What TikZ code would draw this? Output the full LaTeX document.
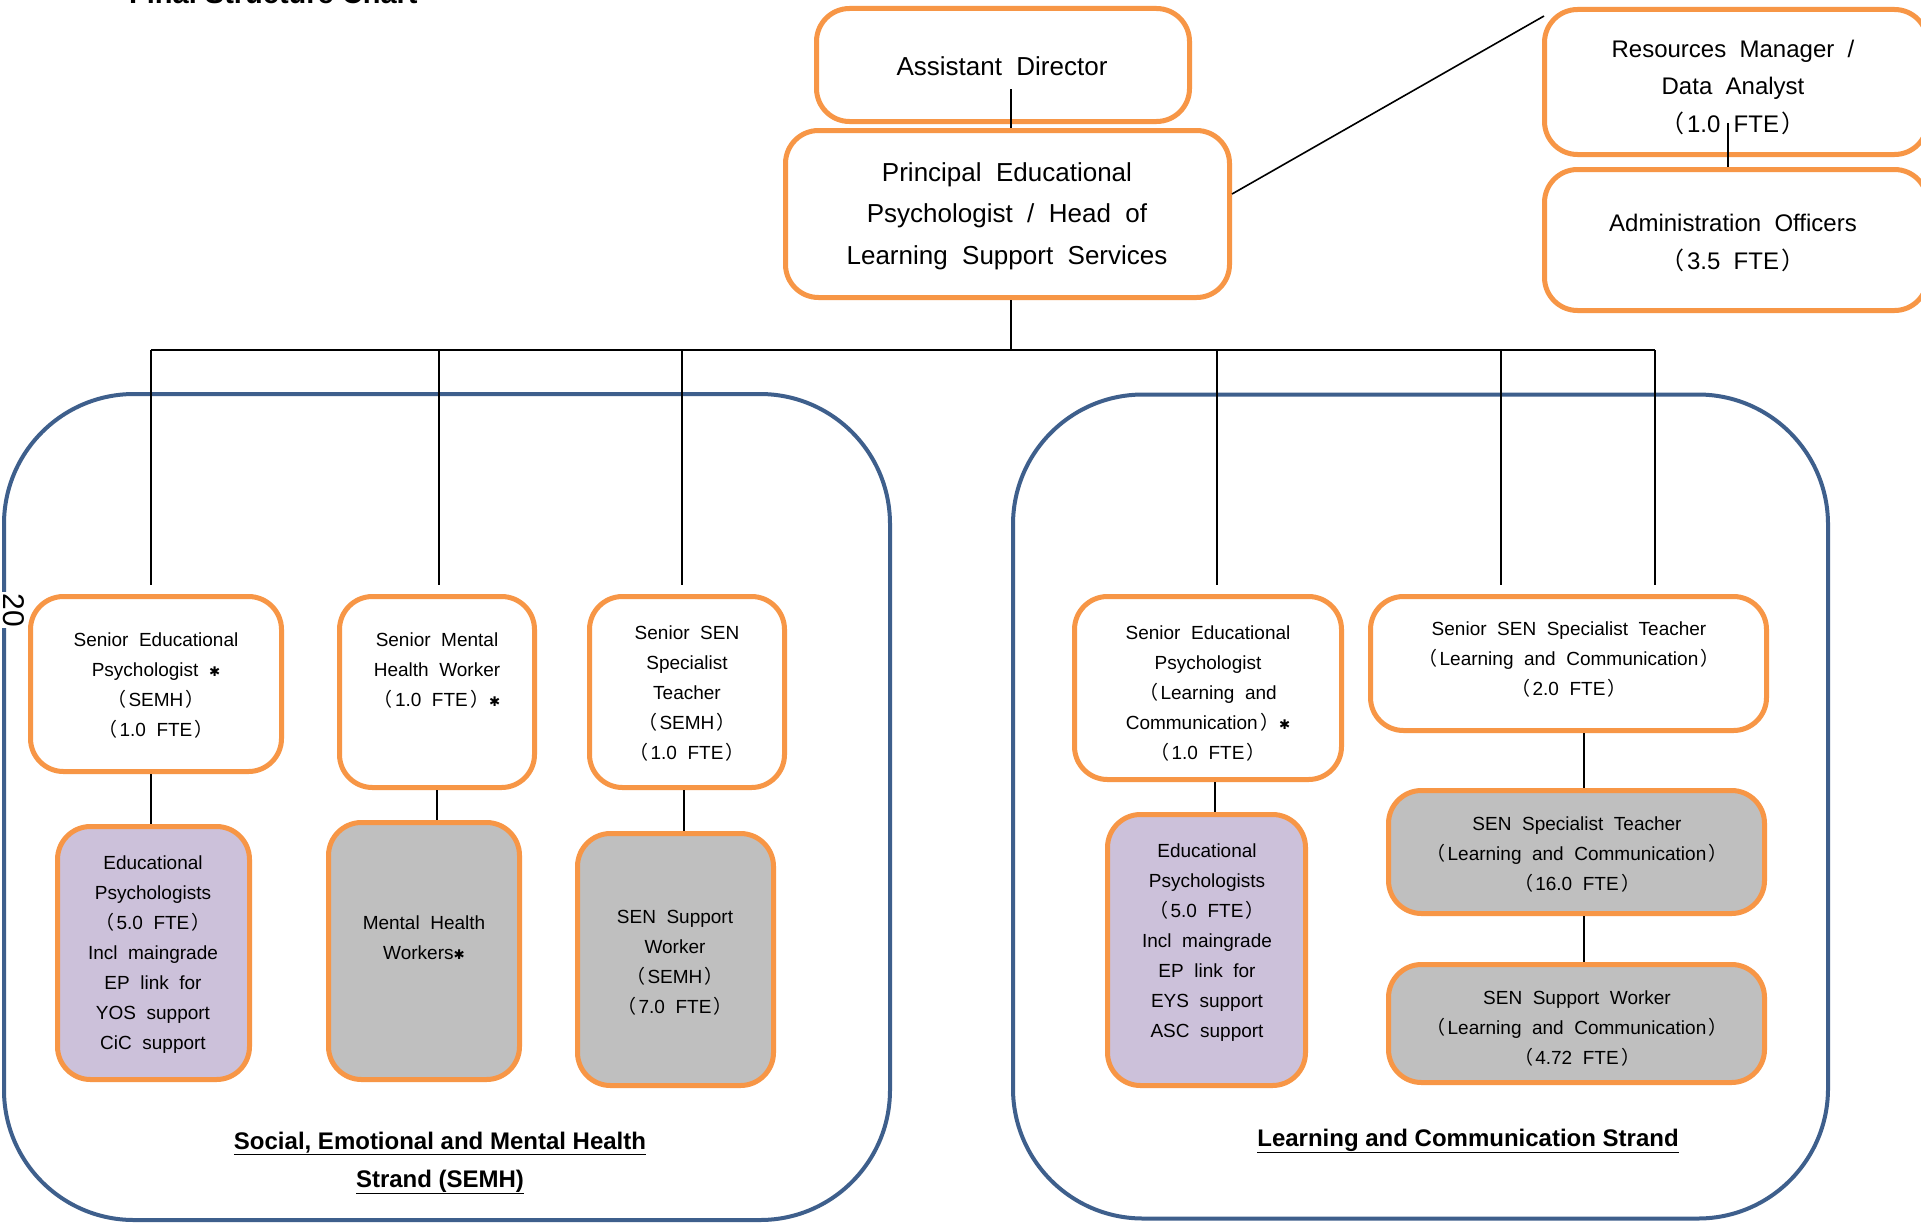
\documentclass[tikz,border=0pt]{standalone}
\usepackage{fontspec}
\setmainfont[WordSpace=2]{Liberation Sans}
\newfontfamily\cjk{Noto Sans CJK KR}
\newfontfamily\lblfont{Liberation Sans}
\newfontfamily\symfont[Scale=0.7]{DejaVu Sans}
\newcommand\lp{{\cjk （}\kern0.12em}
\newcommand\rp{\kern0.12em{\cjk ）}}
\newcommand\stast{{\symfont ✱}}
\definecolor{orgc}{HTML}{F79646}
\definecolor{bluec}{HTML}{3E5F8C}
\definecolor{purc}{HTML}{CCC1DA}
\definecolor{grayc}{HTML}{BFBFBF}
\tikzset{
  obox/.style={draw=orgc, line width=5pt, rounded corners=33pt, fill=white, inner sep=0pt},
  pbox/.style={obox, fill=purc},
  gbox/.style={obox, fill=grayc},
  strand/.style={draw=bluec, line width=4pt, rounded corners=130pt, inner sep=0pt},
  conn/.style={line width=1.6pt, black},
  tx/.style={align=center, inner sep=0pt, font=\fontsize{19}{30}\selectfont},
  txbig/.style={align=center, inner sep=0pt, font=\fontsize{26}{41.5}\selectfont},
  txmid/.style={align=center, inner sep=0pt, font=\fontsize{24}{37.5}\selectfont},
  lbl/.style={align=center, inner sep=0pt, font={\lblfont\bfseries\fontsize{24}{38}\selectfont}}
}
\begin{document}
\begin{tikzpicture}[x=1pt,y=-1pt]
\useasboundingbox (0,0) rectangle (1921,1223);
\fill[white] (0,0) rectangle (1921,1223);

% title (cut off at the top edge)
\node[anchor=base west, inner sep=0pt, font={\lblfont\bfseries\fontsize{29}{32}\selectfont}] (title) at (129,4) {Final Structure Chart};

% strands
\node[strand, minimum width=886pt, minimum height=826pt] (sleft) at (447,807) {};
\node[strand, minimum width=815pt, minimum height=824pt] (sright) at (1420.5,806.5) {};

% page number
\node[rotate=-90, fill=white, inner sep=1pt, font={\lblfont\fontsize{30}{30}\selectfont}] (pg) at (14,610) {20};

% coordinates
\coordinate (adl) at (1011,89);
\coordinate (bus) at (1011,350);
\coordinate (d1) at (151,350);
\coordinate (d2) at (439,350);
\coordinate (d3) at (682,350);
\coordinate (d4) at (1217,350);
\coordinate (d5) at (1501,350);
\coordinate (d6) at (1655,350);
\coordinate (v1) at (151,0);
\coordinate (v2) at (437,0);
\coordinate (v3) at (684,0);
\coordinate (v4) at (1215,0);
\coordinate (v5) at (1584,0);
\coordinate (rml) at (1728,123);
\coordinate (dg1) at (1232,194);
\coordinate (dg2) at (1544,16);

% top boxes
\node[obox, minimum width=373pt, minimum height=113pt] (ad) at (1003,65) {};
\node[obox, minimum width=444pt, minimum height=167pt] (pri) at (1007.5,214) {};
\node[obox, minimum width=383pt, minimum height=145pt] (rm) at (1736,82) {};
\node[obox, minimum width=383pt, minimum height=141pt] (adm) at (1736,240) {};

% lower boxes
\node[obox, minimum width=251pt, minimum height=175pt] (sep1) at (156,684) {};
\node[pbox, minimum width=192pt, minimum height=253pt] (ep1) at (153.5,953) {};
\node[obox, minimum width=195pt, minimum height=191pt] (smhw) at (437,692) {};
\node[gbox, minimum width=191pt, minimum height=257pt] (mhw) at (424,951) {};
\node[obox, minimum width=195pt, minimum height=191pt] (ssst1) at (687,692) {};
\node[gbox, minimum width=196pt, minimum height=252pt] (ssw1) at (675.5,959.5) {};
\node[obox, minimum width=267pt, minimum height=183pt] (sep2) at (1208,688) {};
\node[pbox, minimum width=198pt, minimum height=271pt] (ep2) at (1206.5,950) {};
\node[obox, minimum width=396pt, minimum height=134pt] (ssst2) at (1568.5,663.5) {};
\node[gbox, minimum width=376pt, minimum height=123pt] (sst) at (1576.5,852) {};
\node[gbox, minimum width=376pt, minimum height=118pt] (ssw2) at (1576.5,1023.5) {};

% connectors
\draw[conn] (adl) -- (adl |- pri.north);
\draw[conn] (bus |- pri.south) -- (bus);
\draw[conn] (d1) -- (d6);
\draw[conn, shorten >=9pt] (d1) -- (d1 |- sep1.north);
\draw[conn, shorten >=9pt] (d2) -- (d2 |- smhw.north);
\draw[conn, shorten >=9pt] (d3) -- (d3 |- ssst1.north);
\draw[conn, shorten >=9pt] (d4) -- (d4 |- sep2.north);
\draw[conn, shorten >=9pt] (d5) -- (d5 |- ssst2.north);
\draw[conn, shorten >=9pt] (d6) -- (d6 |- ssst2.north);
\draw[conn] (v1 |- sep1.south) -- (v1 |- ep1.north);
\draw[conn] (v2 |- smhw.south) -- (v2 |- mhw.north);
\draw[conn] (v3 |- ssst1.south) -- (v3 |- ssw1.north);
\draw[conn] (v4 |- sep2.south) -- (v4 |- ep2.north);
\draw[conn] (v5 |- ssst2.south) -- (v5 |- sst.north);
\draw[conn] (v5 |- sst.south) -- (v5 |- ssw2.north);
\draw[conn] (rml) -- (rml |- adm.north);
\draw[conn] (dg1) -- (dg2);

% texts
\node[txbig] (t-ad) at (1002,66) {Assistant Director};
\node[txbig] (t-pri) at (1007,216) {Principal Educational\\Psychologist / Head of\\Learning Support Services};
\node[txmid] (t-rm) at (1733,87) {Resources Manager /\\Data Analyst\\\lp 1.0 FTE\rp};
\node[txmid] (t-adm) at (1733,243) {Administration Officers\\\lp 3.5 FTE\rp};

\node[tx] (t-sep1) at (156,686) {Senior Educational\\Psychologist \stast\\\lp SEMH\rp\\\lp 1.0 FTE\rp};
\node[tx] (t-ep1) at (153,955) {Educational\\Psychologists\\\lp 5.0 FTE\rp\\Incl maingrade\\EP link for\\YOS support\\CiC support};
\node[tx] (t-smhw) at (437,671) {Senior Mental\\Health Worker\\\lp 1.0 FTE\rp\stast};
\node[tx] (t-mhw) at (424,938) {Mental Health\\Workers\stast};
\node[tx] (t-ssst1) at (687,694) {Senior SEN\\Specialist\\Teacher\\\lp SEMH\rp\\\lp 1.0 FTE\rp};
\node[tx] (t-ssw1) at (675,963) {SEN Support\\Worker\\\lp SEMH\rp\\\lp 7.0 FTE\rp};
\node[tx] (t-sep2) at (1208,694) {Senior Educational\\Psychologist\\\lp Learning and\\Communication\rp\stast\\\lp 1.0 FTE\rp};
\node[tx] (t-ep2) at (1207,943) {Educational\\Psychologists\\\lp 5.0 FTE\rp\\Incl maingrade\\EP link for\\EYS support\\ASC support};
\node[tx] (t-ssst2) at (1569,660) {Senior SEN Specialist Teacher\\\lp Learning and Communication\rp\\\lp 2.0 FTE\rp};
\node[tx] (t-sst) at (1577,855) {SEN Specialist Teacher\\\lp Learning and Communication\rp\\\lp 16.0 FTE\rp};
\node[tx] (t-ssw2) at (1577,1029) {SEN Support Worker\\\lp Learning and Communication\rp\\\lp 4.72 FTE\rp};

% strand labels
\node[lbl] (l-left) at (440,1163) {\underline{Social, Emotional and Mental Health}\\\underline{Strand (SEMH)}};
\node[lbl] (l-right) at (1468,1141) {\underline{Learning and Communication Strand}};
\end{tikzpicture}
\end{document}
